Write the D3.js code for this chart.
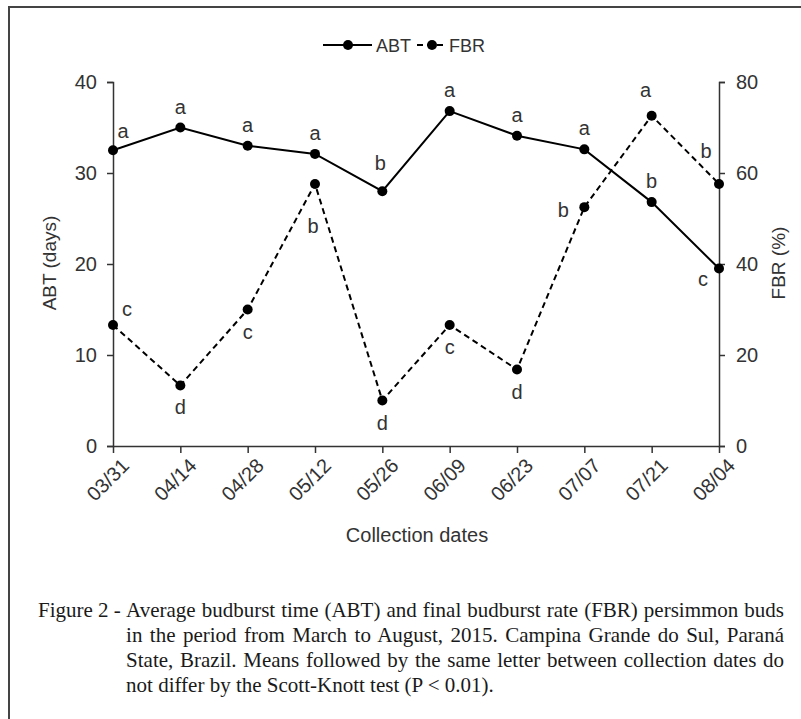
<!DOCTYPE html>
<html lang="en">
<head>
<meta charset="UTF-8">
<title>ABT and FBR</title>
<script src="https://d3js.org/d3.v7.min.js"></script>
<style>
    body { margin: 0; background: #fff; }
    svg text { font-family: "Liberation Sans", Arial, sans-serif; fill: #333; }
    .axis path, .axis line { stroke: #333; stroke-width: 1.5; }
    .axis text { font-size: 20px; fill: #333; }
    .caption text { font-family: "Liberation Serif", "Times New Roman", serif; font-size: 21px; fill: #1a1a1a; }
</style>
</head>
<body>
<svg width="801" height="719"></svg>
<script>
// data
const dates = ["03/31", "04/14", "04/28", "05/12", "05/26", "06/09", "06/23", "07/07", "07/21", "08/04"];
const abt = [32.5, 35.0, 33.0, 32.1, 28.0, 36.8, 34.1, 32.6, 26.8, 19.5];
const fbr = [26.6, 13.3, 30.0, 57.6, 10.0, 26.6, 16.8, 52.5, 72.6, 57.6];
const abtLetters = ["a", "a", "a", "a", "b", "a", "a", "a", "b", "c"];
const fbrLetters = ["c", "d", "c", "b", "d", "c", "d", "b", "a", "b"];
// where each letter sits relative to its point
const abtPlace = ["ur", "t", "t", "t", "tt", "t", "t", "t", "t", "bl"];
const fbrPlace = ["ur2", "b", "b", "bb", "b", "b", "b", "l", "ta", "ul"];
const leftTicks = [0, 10, 20, 30, 40];
const rightTicks = [0, 20, 40, 60, 80];
const captionLines = [
    "Average budburst time (ABT) and final budburst rate (FBR) persimmon buds",
    "in the period from March to August, 2015. Campina Grande do Sul, Paraná",
    "State, Brazil. Means followed by the same letter between collection dates do",
    "not differ by the Scott-Knott test (P < 0.01)."
];

const svg = d3.select("svg");

// outer frame (runs off the right and bottom edges)
svg.append("rect")
    .attr("x", 9).attr("y", 7)
    .attr("width", 820).attr("height", 740)
    .attr("fill", "none").attr("stroke", "#444").attr("stroke-width", 2);

const x = d3.scalePoint().domain(dates).range([113, 719]);
const yL = d3.scaleLinear().domain([0, 40]).range([446, 82]);
const yR = d3.scaleLinear().domain([0, 80]).range([446, 82]);

svg.append("g").attr("class", "axis")
    .attr("transform", "translate(113,0)")
    .call(d3.axisLeft(yL).tickValues(leftTicks).tickSize(6).tickPadding(10).tickSizeOuter(6));

svg.append("g").attr("class", "axis")
    .attr("transform", "translate(719,0)")
    .call(d3.axisRight(yR).tickValues(rightTicks).tickSize(6).tickPadding(11).tickSizeOuter(6));

const xAxis = svg.append("g").attr("class", "axis")
    .attr("transform", "translate(0,446)")
    .call(d3.axisBottom(x).tickSize(7).tickSizeOuter(0));
xAxis.selectAll("text")
    .style("font-size", "20px")
    .attr("text-anchor", "end")
    .attr("transform", "translate(12,16) rotate(-45)")
    .attr("y", 0).attr("dy", "0.35em").attr("x", 0);

// axis titles
svg.append("text")
    .attr("transform", "translate(56,263) rotate(-90)")
    .attr("text-anchor", "middle")
    .style("font-size", "19px")
    .text("ABT (days)");
svg.append("text")
    .attr("transform", "translate(785,263) rotate(-90)")
    .attr("text-anchor", "middle")
    .style("font-size", "19px")
    .text("FBR (%)");
svg.append("text")
    .attr("x", 417).attr("y", 542)
    .attr("text-anchor", "middle")
    .style("font-size", "20px")
    .text("Collection dates");

// series
const lineL = d3.line().x((d, i) => x(dates[i])).y(d => yL(d));
const lineR = d3.line().x((d, i) => x(dates[i])).y(d => yR(d));

svg.append("path").datum(fbr)
    .attr("d", lineR)
    .attr("fill", "none").attr("stroke", "#000").attr("stroke-width", 2)
    .attr("stroke-dasharray", "6,4");
svg.append("path").datum(abt)
    .attr("d", lineL)
    .attr("fill", "none").attr("stroke", "#000").attr("stroke-width", 2);

svg.selectAll(".dotR").data(fbr).enter().append("circle")
    .attr("cx", (d, i) => x(dates[i])).attr("cy", d => yR(d))
    .attr("r", 5).attr("fill", "#000");
svg.selectAll(".dotL").data(abt).enter().append("circle")
    .attr("cx", (d, i) => x(dates[i])).attr("cy", d => yL(d))
    .attr("r", 5).attr("fill", "#000");

// letter placement offsets [dx, dy]
const offs = {
    t: [0, -14], tt: [-2, -21], ta: [-6, -19], ur: [10, -12], ur2: [14, -9],
    b: [0, 29], bb: [-2, 49], bl: [-16, 17], l: [-21, 10], ul: [-13, -26]
};
function letters(vals, lets, place, y) {
    svg.append("g").selectAll("text").data(vals).enter().append("text")
        .attr("x", (d, i) => x(dates[i]) + offs[place[i]][0])
        .attr("y", (d, i) => y(d) + offs[place[i]][1])
        .attr("text-anchor", "middle")
        .style("font-size", "20px")
        .text((d, i) => lets[i]);
}
letters(abt, abtLetters, abtPlace, yL);
letters(fbr, fbrLetters, fbrPlace, yR);

// legend
const lg = svg.append("g").attr("transform", "translate(0,45)");
lg.append("line").attr("x1", 323).attr("x2", 372).attr("stroke", "#000").attr("stroke-width", 2);
lg.append("circle").attr("cx", 348).attr("r", 5).attr("fill", "#000");
lg.append("text").attr("x", 376).attr("y", 6.5).style("font-size", "18px").text("ABT");
lg.append("line").attr("x1", 417).attr("x2", 446).attr("stroke", "#000").attr("stroke-width", 2)
    .attr("stroke-dasharray", "6,4");
lg.append("circle").attr("cx", 432).attr("r", 5).attr("fill", "#000");
lg.append("text").attr("x", 449).attr("y", 6.5).style("font-size", "18px").text("FBR");

// caption, justified like the source
const cap = svg.append("g").attr("class", "caption");
const capLeft = 38, capRight = 784, lineY = [617, 642, 667, 692];

// measure a space width, then drop the helper
const probe = cap.append("text").attr("x", capLeft).attr("y", lineY[0]);
probe.text("a a");
const w2 = probe.node().getComputedTextLength();
probe.text("aa");
const spaceW = w2 - probe.node().getComputedTextLength();
probe.remove();

const lead = cap.append("text").attr("x", capLeft).attr("y", lineY[0]).text("Figure 2 -");
const indent = capLeft + lead.node().getComputedTextLength() + spaceW;
captionLines.forEach((s, i) => {
    const t = cap.append("text").attr("x", indent).attr("y", lineY[i]).text(s);
    if (i < captionLines.length - 1) {
        const gaps = s.split(" ").length - 1;
        const extra = (capRight - indent - t.node().getComputedTextLength()) / gaps;
        t.attr("word-spacing", extra);
    }
});
</script>
</body>
</html>
